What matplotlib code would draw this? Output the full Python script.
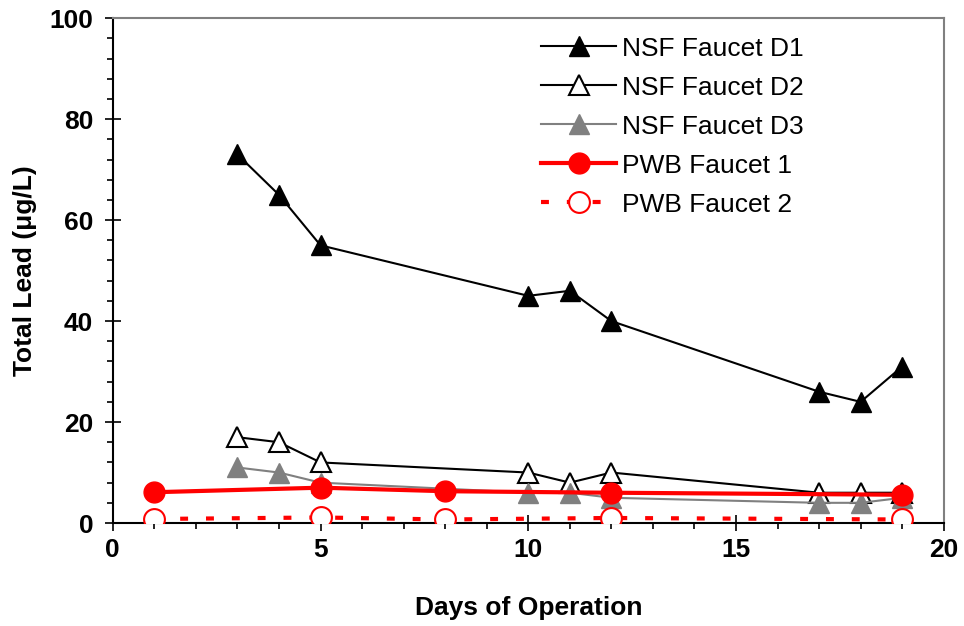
import numpy as np
import matplotlib
matplotlib.use('Agg')
from matplotlib import pyplot as plt
from matplotlib.ticker import MultipleLocator

plt.rcParams['font.family'] = ['Liberation Sans', 'DejaVu Sans']

# data
days_nsf = [3, 4, 5, 10, 11, 12, 17, 18, 19]
nsf_d1 = [73, 65, 55, 45, 46, 40, 26, 24, 31]
nsf_d2 = [17, 16, 12, 10, 8, 10, 6, 6, 6]
nsf_d3 = [11, 10, 8, 6, 6, 5, 4, 4, 5]
days_pwb = [1, 5, 8, 12, 19]
pwb_1 = [6.1, 7.0, 6.3, 6.0, 5.6]
pwb_2 = [0.8, 1.1, 0.7, 1.0, 0.7]

fig = plt.figure(figsize=(9.64, 6.26), dpi=100)
ax = fig.add_axes([0.117, 0.1645, 0.862, 0.8065])

ms = 15
ax.plot(days_nsf, nsf_d1, color='black', lw=1.5, marker='^', ms=ms,
        mfc='black', mec='black', label='NSF Faucet D1', zorder=3)
ax.plot(days_nsf, nsf_d2, color='black', lw=1.5, marker='^', ms=ms,
        mfc='white', mec='black', mew=1.5, label='NSF Faucet D2', zorder=3)
ax.plot(days_nsf, nsf_d3, color='#808080', lw=1.5, marker='^', ms=ms,
        mfc='#808080', mec='#808080', label='NSF Faucet D3', zorder=3)
ax.plot(days_pwb, pwb_1, color='red', lw=3, marker='o', ms=15,
        mfc='red', mec='red', label='PWB Faucet 1', zorder=4)
ax.plot(days_pwb, pwb_2, color='red', lw=3, ls=(0, (1.9, 4.3)), marker='o', ms=15,
        mfc='white', mec='red', mew=1.5, label='PWB Faucet 2', zorder=4)

ax.set_xlim(0, 20)
ax.set_ylim(0, 100)
ax.xaxis.set_major_locator(MultipleLocator(5))
ax.xaxis.set_minor_locator(MultipleLocator(1))
ax.yaxis.set_major_locator(MultipleLocator(20))
ax.yaxis.set_minor_locator(MultipleLocator(4))
ax.tick_params(which='major', direction='inout', length=12, width=1.2, labelsize=19, pad=5)
ax.tick_params(axis='y', which='major', pad=8)
ax.tick_params(which='minor', direction='out', length=4.5, width=1.2)
for lab in ax.get_xticklabels() + ax.get_yticklabels():
    lab.set_fontweight('bold')

for s in ['left', 'bottom']:
    ax.spines[s].set_color('black')
    ax.spines[s].set_linewidth(1.5)
for s in ['top', 'right']:
    ax.spines[s].set_color('#808080')
    ax.spines[s].set_linewidth(1.5)

ax.set_xlabel('Days of Operation', fontsize=19, fontweight='bold', labelpad=24)
ax.set_ylabel('Total Lead (\u03bcg/L)', fontsize=19, fontweight='bold', labelpad=9)

ax.legend(loc='upper right', frameon=False, fontsize=19, handlelength=2.85,
          labelspacing=0.57, handletextpad=0.2, bbox_to_anchor=(0.85, 0.995),
          numpoints=1, borderaxespad=0.2)

fig.savefig('out.png', dpi=100)
